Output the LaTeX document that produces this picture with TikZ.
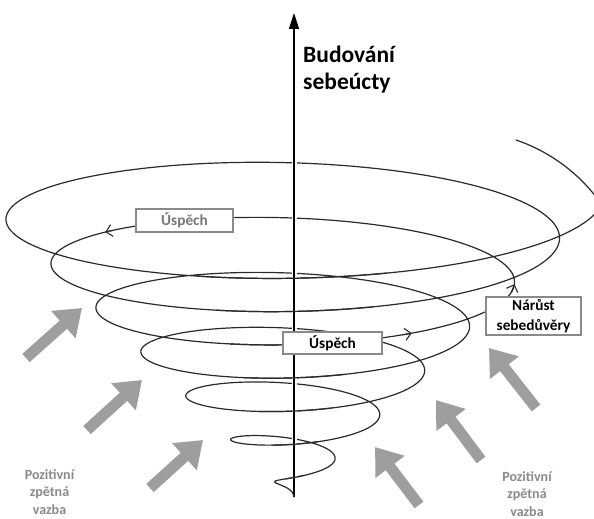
\documentclass[tikz,border=0pt]{standalone}
\usepackage{fontspec}
\setmainfont{Carlito}
\usetikzlibrary{arrows.meta}
\definecolor{spir}{HTML}{2A2A2A}
\definecolor{fb}{HTML}{9E9E9E}
\definecolor{boxc}{HTML}{8A8A8A}
\definecolor{lbl}{HTML}{8A8A8A}
\definecolor{tgray}{HTML}{777777}
\tikzset{
  spiral/.style={draw=spir, line width=1.2pt, line join=round, line cap=round},
  halo/.style={draw=white, line width=5pt},
  axisline/.style={draw=black, line width=1.3pt, -{Triangle[length=16pt,width=10pt]}},
  fbarrow/.style={draw=fb, line width=11pt, -{Triangle[length=25pt,width=35pt]}},
  tipbarb/.style={draw=spir, line width=1.1pt, -{Straight Barb[length=6pt,width=12pt]}},
  lbox/.style={draw=boxc, line width=1.1pt, fill=white, inner sep=0pt,
    font=\bfseries\fontsize{15.3}{20}\selectfont},
  fbtext/.style={text=lbl, font=\bfseries\fontsize{14}{17.5}\selectfont, align=center, inner sep=0pt},
  title/.style={anchor=base west, inner sep=0pt, font=\bfseries\fontsize{23.5}{26}\selectfont}
}
\begin{document}
\begin{tikzpicture}[x=1pt,y=-1pt,
  declare function={spx(\u)=294-(18+22.5*\u)*cos(180*\u);
                    spy(\u)=483-22.1*\u+5.5*(\u+0.5)*sin(180*\u);}]
\useasboundingbox (0,0) rectangle (594,519);
\clip (0,0) rectangle (594,519);
\fill[white] (0,0) rectangle (594,519);

% spiral body
\draw[spiral] plot[domain=0:13, samples=900, variable=\u] ({spx(\u)},{spy(\u)});
% last back part, top right
\coordinate (e0) at (615,240);
\coordinate (e1) at (516,140);
\draw[spiral] (e0) .. controls (612,205) and (570,158) .. (e1);

% axis
\coordinate (axb) at (294,497);
\coordinate (axt) at (294,13);
\draw[halo] (axb) -- (axt);
\draw[axisline] (axb) -- (axt);

% front halves redrawn over the axis
\foreach \k in {0,...,6}{
  \draw[spiral] plot[domain={2*\k+0.4}:{2*\k+0.6}, samples=20, variable=\u] ({spx(\u)},{spy(\u)});
}
% tail
\coordinate (s0) at ({spx(0)},{spy(0)});
\draw[spiral] (s0) .. controls (285,487) and (293,489) .. (axb);

% arrowheads on the spiral
\coordinate (a1s) at ({spx(9.775)},{spy(9.775)});
\coordinate (a1e) at ({spx(9.791)},{spy(9.791)});
\draw[tipbarb] (a1s) -- (a1e);
\coordinate (a2s) at ({spx(8.670)},{spy(8.670)});
\coordinate (a2e) at ({spx(8.686)},{spy(8.686)});
\draw[tipbarb] (a2s) -- (a2e);
\coordinate (a3s) at ({spx(8.955)},{spy(8.955)});
\coordinate (a3e) at ({spx(9.0)},{spy(9.0)});
\draw[tipbarb] (a3s) -- (a3e);

% boxes
\node[lbox, text=tgray, minimum width=97pt, minimum height=23pt] (usp1) at (184.5,220.5) {Úspěch};
\node[lbox, minimum width=99pt, minimum height=22pt] (usp2) at (332.5,343) {Úspěch};
\node[lbox, minimum width=95pt, minimum height=38pt, align=center] (nar) at (533.5,316) {Nárůst\\sebedůvěry};

% title
\node[title] (t1) at (303,63) {Budování};
\node[title] (t2) at (303,89) {sebeúcty};

% feedback labels
\node[fbtext] (fbl) at (49.5,492) {Pozitivní\\zpětná\\vazba};
\node[fbtext] (fbr) at (527,494) {Pozitivní\\zpětná\\vazba};

% gray arrows
\coordinate (l1a) at (26,358);  \coordinate (l1b) at (82,308);
\coordinate (l2a) at (87,430);  \coordinate (l2b) at (142,380);
\coordinate (l3a) at (150,488); \coordinate (l3b) at (203,440);
\coordinate (r1a) at (536,408); \coordinate (r1b) at (489,348);
\coordinate (r2a) at (481,460); \coordinate (r2b) at (436,400);
\coordinate (r3a) at (419,505); \coordinate (r3b) at (375,447);
\draw[fbarrow] (l1a) -- (l1b);
\draw[fbarrow] (l2a) -- (l2b);
\draw[fbarrow] (l3a) -- (l3b);
\draw[fbarrow] (r1a) -- (r1b);
\draw[fbarrow] (r2a) -- (r2b);
\draw[fbarrow] (r3a) -- (r3b);
\end{tikzpicture}
\end{document}
